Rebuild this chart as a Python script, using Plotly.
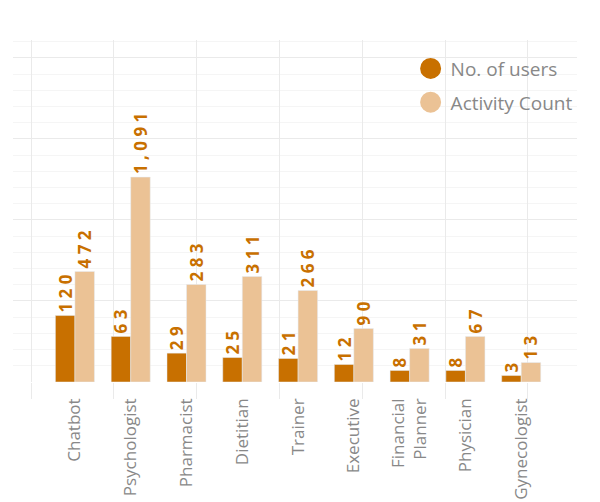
import plotly.graph_objects as go

categories = ["Chatbot", "Psychologist", "Pharmacist", "Dietitian", "Trainer",
              "Executive", "Financial<br>Planner", "Physician", "Gynecologist"]
users = [120, 63, 29, 25, 21, 12, 8, 8, 3]
activity = [472, 1091, 283, 311, 266, 90, 31, 67, 13]
# bar lengths as drawn in the reference (in minor-grid units)
users_bar = [4.10, 2.81, 1.78, 1.51, 1.45, 1.08, 0.71, 0.71, 0.40]
activity_bar = [6.82, 12.64, 6.02, 6.51, 5.65, 3.30, 2.07, 2.81, 1.20]

DARK = "#c87000"
LIGHT = "#ebc295"
GRID_MAJOR = "#eaeaea"
GRID_MINOR = "#f5f5f5"
LABEL_FONT = dict(family="Open Sans", size=17, color=DARK, weight=700)


def spaced(v):
    return " ".join(f"{v:,}")


fig = go.Figure()
fig.add_trace(go.Bar(
    x=categories, y=users_bar, name="No. of users", marker_color=DARK,
    text=[spaced(v) for v in users], textposition="outside", textangle=-90,
    textfont=LABEL_FONT, constraintext="none", cliponaxis=False,
    showlegend=False, hoverinfo="skip"))
fig.add_trace(go.Bar(
    x=categories, y=activity_bar, name="Activity Count", marker_color=LIGHT,
    text=[spaced(v) for v in activity], textposition="outside", textangle=-90,
    textfont=LABEL_FONT, constraintext="none", cliponaxis=False,
    showlegend=False, hoverinfo="skip"))

# legend entries with round symbols
for name, col in [("No. of users", DARK), ("Activity Count", LIGHT)]:
    fig.add_trace(go.Scatter(x=[None], y=[None], mode="markers", name=name,
                             legendgroup=name,
                             marker=dict(color=col, size=20, symbol="circle",
                                         line=dict(color=col, width=6))))

# empty trace that carries the secondary x axis used for the vertical grid
fig.add_trace(go.Scatter(x=[None], y=[None], xaxis="x2", yaxis="y",
                         showlegend=False, hoverinfo="skip"))

fig.update_layout(
    width=600, height=502,
    margin=dict(l=13, r=23, t=40, b=120, autoexpand=False),
    paper_bgcolor="white", plot_bgcolor="white",
    barmode="group", bargap=0.3, bargroupgap=0,
    font=dict(family="Open Sans", color="#888888"),
    legend=dict(x=0.705, y=0.972, xanchor="left", yanchor="top",
                font=dict(size=19, color="#888888"), itemsizing="trace",
                bgcolor="rgba(0,0,0,0)", tracegroupgap=6),
    xaxis=dict(type="category", range=[-1.11, 9.0], showgrid=False,
               tickangle=-90, ticks="", showline=False, zeroline=False,
               automargin=False,
               tickfont=dict(size=17, color="#888888"), ticklabelstandoff=12),
    xaxis2=dict(overlaying="x", anchor="y", side="bottom", range=[0, 564],
                tick0=18, dtick=82.8, showgrid=True, gridcolor=GRID_MAJOR,
                ticks="outside", ticklen=16, tickcolor=GRID_MAJOR,
                showticklabels=False, zeroline=False, showline=False,
                automargin=False),
    yaxis=dict(range=[0, 21.1], dtick=5, showgrid=True, gridcolor=GRID_MAJOR,
               showticklabels=False, zeroline=False, showline=False,
               automargin=False,
               minor=dict(dtick=1, showgrid=True, gridcolor=GRID_MINOR)),
)

fig.write_html("out.html")
